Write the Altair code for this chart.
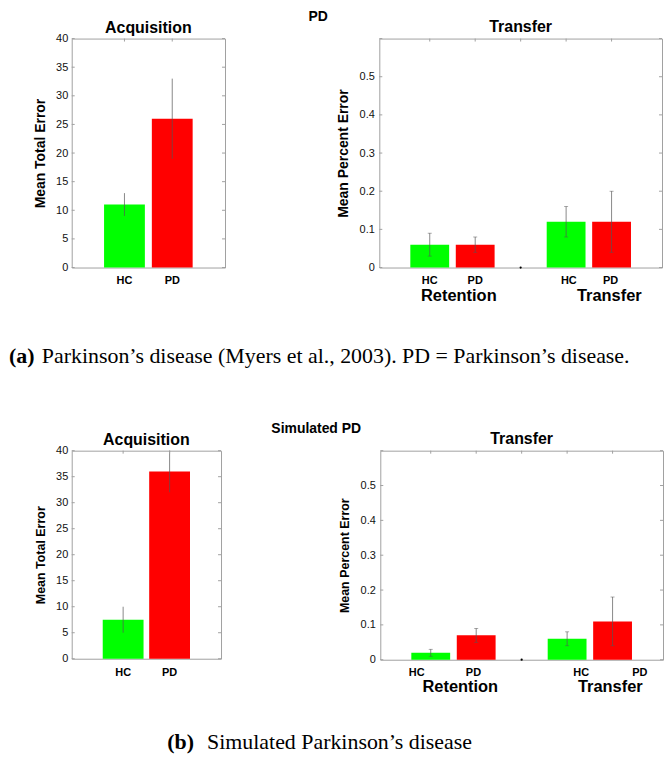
import altair as alt
import pandas as pd

# ---------------- data ----------------
groups = ["HC", "PD"]
acq_pos = [1, 2]
acq_ticks = [0, 5, 10, 15, 20, 25, 30, 35, 40]

# (a) Parkinson's disease (Myers et al., 2003)
acq_a_mean = [11, 26]
acq_a_err = [2, 7]
# (b) Simulated PD
acq_b_mean = [7.5, 36]
acq_b_err = [2.5, 4]

tr_pos = [1, 2, 4, 5]
tr_group = ["HC", "PD", "HC", "PD"]
tr_ticks = [0, 0.1, 0.2, 0.3, 0.4, 0.5, 0.6]
tr_label_ticks = [0, 0.1, 0.2, 0.3, 0.4, 0.5]
tr_xticks = [1, 2, 3, 4, 5]
tr_dot = [3]
cond_names = ["Retention", "Transfer"]

tr_a_mean = [0.06, 0.06, 0.12, 0.12]
tr_a_err = [0.03, 0.02, 0.04, 0.08]
tr_a_label_pos = [1.0, 2.0, 4.06, 4.98]
tr_a_cond_pos = [1.64, 4.95]

tr_b_mean = [0.02, 0.07, 0.06, 0.11]
tr_b_err = [0.01, 0.02, 0.02, 0.07]
tr_b_label_pos = [0.69, 1.94, 4.31, 5.60]
tr_b_cond_pos = [1.65, 4.95]

# ---------------- style ----------------
FONT = "Liberation Sans"
SERIF = "Liberation Serif"
FRAME = "#a0a0a0"
ERR = "#555555"
GREEN = "#00ff00"
RED = "#ff0000"


def color_enc():
    return alt.Color("group:N", scale=alt.Scale(domain=groups, range=[GREEN, RED]), legend=None)


def y_axis(values, title_size, label_pad, title_pad, fmt=None):
    kw = dict(values=values, ticks=False, domain=False, grid=False,
              labelFont=FONT, labelFontSize=11, labelColor="#111",
              labelPadding=label_pad, titleFont=FONT, titleFontSize=title_size,
              titleFontWeight="bold", titleColor="#000", titlePadding=title_pad)
    if fmt:
        kw["format"] = fmt
    return alt.Axis(**kw)


def frame_ticks(yvals, ysc, ytitle, yax, xvals, xsc, w, h):
    ydf = pd.DataFrame({"v": yvals})
    xdf = pd.DataFrame({"v": xvals})
    ys = alt.Y("v:Q", scale=ysc, title=ytitle, axis=yax)
    xs = alt.X("v:Q", scale=xsc, axis=None)
    left = alt.Chart(ydf).mark_rule(color=FRAME, strokeWidth=1).encode(
        y=ys, x=alt.value(0), x2=alt.value(3))
    right = alt.Chart(ydf).mark_rule(color=FRAME, strokeWidth=1).encode(
        y=ys, x=alt.value(w - 3), x2=alt.value(w))
    top = alt.Chart(xdf).mark_rule(color=FRAME, strokeWidth=1).encode(
        x=xs, y=alt.value(0), y2=alt.value(3))
    return [left, right, top]


def panel_title(text, offset):
    return alt.TitleParams(text, font=FONT, fontSize=16, fontWeight="bold", offset=offset)


def acq_panel(means, errs, w, h, title_size):
    df = pd.DataFrame({"pos": acq_pos, "group": groups, "mean": means, "err": errs})
    base = alt.Chart(df).transform_calculate(
        lo="datum.mean - datum.err", hi="datum.mean + datum.err")
    xsc = alt.Scale(domain=[0, 3], nice=False, zero=True)
    ysc = alt.Scale(domain=[0, 40], nice=False, zero=True)
    ytitle = "Mean Total Error"
    yax = y_axis(acq_ticks, title_size, 4, 8)
    x = alt.X("pos:Q", scale=xsc, axis=None)
    bars = base.mark_bar(size=41).encode(
        x=x, y=alt.Y("mean:Q", scale=ysc, title=ytitle, axis=yax), color=color_enc())
    err = base.mark_rule(color=ERR, strokeWidth=0.7).encode(
        x=x, y=alt.Y("lo:Q", scale=ysc, title=ytitle, axis=yax), y2="hi:Q")
    labels = base.mark_text(font=FONT, fontSize=11, fontWeight="bold", baseline="middle").encode(
        x=x, y=alt.value(h + 14), text="group:N")
    layers = [bars, err, labels] + frame_ticks(acq_ticks, ysc, ytitle, yax, acq_pos, xsc, w, h)
    return alt.layer(*layers).properties(
        width=w, height=h, title=panel_title("Acquisition", -3),
        view=alt.ViewBackground(stroke=FRAME, strokeWidth=1))


def tr_panel(means, errs, label_pos, cond_pos, w, h, title_size, dy_lab, dy_cond):
    df = pd.DataFrame({"pos": tr_pos, "group": tr_group, "mean": means, "err": errs,
                       "lpos": label_pos})
    base = alt.Chart(df).transform_calculate(
        lo="datum.mean - datum.err", hi="datum.mean + datum.err")
    xsc = alt.Scale(domain=[0, 6], nice=False, zero=True)
    ysc = alt.Scale(domain=[0, 0.6], nice=False, zero=True)
    ytitle = "Mean Percent Error"
    yax = y_axis(tr_label_ticks, title_size, 5, 9, ".1~f")
    x = alt.X("pos:Q", scale=xsc, axis=None)
    bars = base.mark_bar(size=39).encode(
        x=x, y=alt.Y("mean:Q", scale=ysc, title=ytitle, axis=yax), color=color_enc())
    yl = alt.Y("lo:Q", scale=ysc, title=ytitle, axis=yax)
    yh = alt.Y("hi:Q", scale=ysc, title=ytitle, axis=yax)
    err = base.mark_rule(color=ERR, strokeWidth=0.7).encode(x=x, y=yl, y2="hi:Q")
    cap_lo = base.mark_tick(orient="horizontal", size=4, thickness=0.7, color=ERR).encode(x=x, y=yl)
    cap_hi = base.mark_tick(orient="horizontal", size=4, thickness=0.7, color=ERR).encode(x=x, y=yh)
    labels = base.mark_text(font=FONT, fontSize=11, fontWeight="bold", baseline="middle").encode(
        x=alt.X("lpos:Q", scale=xsc, axis=None), y=alt.value(h + dy_lab), text="group:N")
    cdf = pd.DataFrame({"name": cond_names, "cpos": cond_pos})
    conds = alt.Chart(cdf).mark_text(font=FONT, fontSize=16.5, fontWeight="bold", baseline="middle").encode(
        x=alt.X("cpos:Q", scale=xsc, axis=None), y=alt.value(h + dy_cond), text="name:N")
    dot = alt.Chart(pd.DataFrame({"v": tr_dot, "z": [0]})).mark_circle(size=5, color="#000", opacity=1).encode(
        x=alt.X("v:Q", scale=xsc, axis=None), y=alt.Y("z:Q", scale=ysc, title=ytitle, axis=yax))
    layers = [bars, err, cap_lo, cap_hi, labels, conds, dot] + frame_ticks(
        tr_ticks, ysc, ytitle, yax, tr_xticks, xsc, w, h)
    return alt.layer(*layers).properties(
        width=w, height=h, title=panel_title("Transfer", 3),
        view=alt.ViewBackground(stroke=FRAME, strokeWidth=1))


acq_a = acq_panel(acq_a_mean, acq_a_err, 154, 230, 14)
tr_a = tr_panel(tr_a_mean, tr_a_err, tr_a_label_pos, tr_a_cond_pos, 284, 230, 14, 14, 29)
acq_b = acq_panel(acq_b_mean, acq_b_err, 150, 209, 12.5)
tr_b = tr_panel(tr_b_mean, tr_b_err, tr_b_label_pos, tr_b_cond_pos, 284, 210, 12.5, 13, 27)

row_a = alt.hconcat(acq_a, tr_a, spacing=110,
                    title=alt.TitleParams("PD", font=FONT, fontSize=14, fontWeight="bold",
                                          anchor="middle", dx=-30, offset=-5))
row_b = alt.hconcat(acq_b, tr_b, spacing=116,
                    title=alt.TitleParams("Simulated PD", font=FONT, fontSize=14, fontWeight="bold",
                                          anchor="middle", dx=-33, offset=-5))

dummy = pd.DataFrame({"k": [0]})


def caption(bold, rest, x0, gap, y, w, h):
    b = alt.Chart(dummy).mark_text(font=SERIF, fontSize=22, fontWeight="bold", align="left",
                                   baseline="alphabetic").encode(
        x=alt.value(x0), y=alt.value(y), text=alt.value(bold))
    r = alt.Chart(dummy).mark_text(font=SERIF, fontSize=22, align="left",
                                   baseline="alphabetic").encode(
        x=alt.value(x0 + gap), y=alt.value(y), text=alt.value(rest))
    return alt.layer(b, r).properties(width=w, height=h,
                                      view=alt.ViewBackground(stroke="transparent"))


cap_a = caption("(a)", "Parkinson\u2019s disease (Myers et al., 2003). PD = Parkinson\u2019s disease.",
                -63, 33, 57, 500, 115)
cap_b = caption("(b)", "Simulated Parkinson\u2019s disease", 96, 40, 53, 500, 56)

chart = alt.vconcat(row_a, cap_a, row_b, cap_b, spacing=0).properties(
    padding={"left": 0, "top": 0, "right": 0, "bottom": 0}
).configure_view(stroke=FRAME)

chart.save("out.html", embed_options={"renderer": "svg", "actions": False})
